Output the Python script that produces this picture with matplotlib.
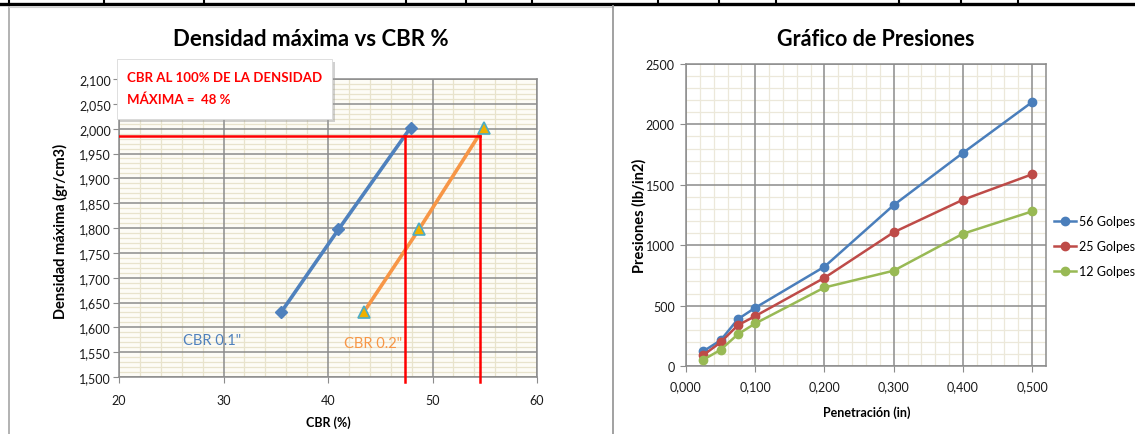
import matplotlib
matplotlib.use("Agg")
import matplotlib.pyplot as plt
from matplotlib.ticker import MultipleLocator, FuncFormatter
from matplotlib.patches import Rectangle
from matplotlib.lines import Line2D

plt.rcParams['font.family'] = ['Lato', 'DejaVu Sans']

# --- Densidad maxima vs CBR ---
cbr_01 = [35.5, 41.0, 47.9]          # CBR 0.1"
cbr_02 = [43.4, 48.7, 54.9]          # CBR 0.2"
densidad = [1.630, 1.797, 2.002]     # gr/cm3
dens_ref = 1.985                     # densidad de referencia (linea roja)
cbr_ref_01 = 47.4
cbr_ref_02 = 54.5
cbr_resultado = "48 %"

# --- Grafico de presiones ---
penetracion = [0.025, 0.050, 0.075, 0.100, 0.200, 0.300, 0.400, 0.500]
golpes_56 = [122, 213, 388, 482, 822, 1332, 1764, 2185]
golpes_25 = [90, 196, 338, 413, 730, 1107, 1376, 1587]
golpes_12 = [52, 134, 263, 352, 650, 789, 1095, 1280]
series_labels = ['56 Golpes', '25 Golpes', '12 Golpes']

W, H = 1135, 435
fig = plt.figure(figsize=(W / 100, H / 100), dpi=100)
fig.patch.set_facecolor('white')


def fx(px):
    return px / W


def fy(py):
    return 1 - py / H


def comma(dec):
    return FuncFormatter(lambda v, pos: f"{v:.{dec}f}".replace('.', ','))


def style_axes(ax, minor_color, face):
    ax.set_facecolor(face)
    ax.set_axisbelow(True)
    ax.grid(which='minor', color=minor_color, lw=0.9)
    # major grid drawn by hand so the minor lines don't cut through it
    x0, x1 = ax.get_xlim()
    y0, y1 = ax.get_ylim()
    for v in ax.get_xticks():
        if x0 <= v <= x1:
            ax.axvline(v, color='#8c8c8c', lw=1.1, zorder=1)
    for v in ax.get_yticks():
        if y0 <= v <= y1:
            ax.axhline(v, color='#8c8c8c', lw=1.1, zorder=1)
    for s in ax.spines.values():
        s.set_color('#8c8c8c')
        s.set_linewidth(1.1)
    ax.tick_params(which='major', direction='out', length=4, color='#8c8c8c',
                   labelsize=9, labelcolor='#1a1a1a')
    ax.tick_params(which='minor', length=0)


# ---------------- left chart ----------------
ax1 = fig.add_axes([fx(119), fy(378), (537 - 119) / W, (378 - 80) / H])
ax1.set_xlim(20, 60)
ax1.set_ylim(1.5, 2.1)
ax1.xaxis.set_major_locator(MultipleLocator(10))
ax1.xaxis.set_minor_locator(MultipleLocator(2))
ax1.yaxis.set_major_locator(MultipleLocator(0.05))
ax1.yaxis.set_minor_locator(MultipleLocator(0.01))
ax1.yaxis.set_major_formatter(comma(3))
style_axes(ax1, '#e8e3cc', '#fdfcf6')
ax1.tick_params(axis='y', pad=2)
ax1.tick_params(axis='x', pad=8)

ax1.plot(cbr_01, densidad, color='#4f81bd', lw=2.6, marker='D', ms=6,
         mfc='#4f81bd', mec='#4f81bd', zorder=3)
ax1.plot(cbr_02, densidad, color='#f79646', lw=2.6, marker='^', ms=8,
         mfc='#f0b000', mec='#4bacc6', mew=1.2, zorder=3)

y0, y1 = ax1.get_ylim()
top_frac = (dens_ref - y0) / (y1 - y0)
ax1.plot([ax1.get_xlim()[0], cbr_ref_02], [dens_ref, dens_ref], color='red', lw=1.8, zorder=4)
for c in (cbr_ref_01, cbr_ref_02):
    ax1.axvline(c, ymin=-0.018, ymax=top_frac, color='red', lw=1.8, clip_on=False, zorder=4)

ax1.text(28.9, 1.574, 'CBR 0.1"', color='#4f81bd', fontsize=10.5, ha='center', va='center', zorder=5)
ax1.text(44.3, 1.568, 'CBR 0.2"', color='#f79646', fontsize=10.5, ha='center', va='center', zorder=5)

fig.text(fx(311), fy(40), 'Densidad máxima vs CBR %', ha='center', va='center',
         fontsize=16, fontweight='bold')
fig.text(fx(60), fy(231), 'Densidad máxima (gr/cm3)', rotation=90, ha='center', va='center',
         fontsize=10.5, fontweight='bold')
fig.text(fx(328), fy(423), 'CBR (%)', ha='center', va='center', fontsize=9, fontweight='bold')

# caja con el resultado
bx0, by0, bx1, by1 = 117, 60, 332, 120
fig.patches.append(Rectangle((fx(bx0 + 3), fy(by1 + 3)), (bx1 - bx0) / W, (by1 - by0) / H,
                             transform=fig.transFigure, fc='#9a9a9a', ec='none', alpha=0.45, zorder=5))
fig.patches.append(Rectangle((fx(bx0), fy(by1)), (bx1 - bx0) / W, (by1 - by0) / H,
                             transform=fig.transFigure, fc='white', ec='#d9d9d9', lw=0.6, zorder=6))
fig.text(fx(127), fy(78), 'CBR AL 100% DE LA DENSIDAD', color='#ff0000', fontsize=9.5,
         fontweight='bold', ha='left', va='center', zorder=7)
fig.text(fx(127), fy(100), 'MÁXIMA =  ' + cbr_resultado, color='#ff0000', fontsize=9.5,
         fontweight='bold', ha='left', va='center', zorder=7)

# ---------------- right chart ----------------
ax2 = fig.add_axes([fx(686), fy(367), (1046 - 686) / W, (367 - 65) / H])
ax2.set_xlim(0, 0.52)
ax2.set_ylim(0, 2500)
ax2.xaxis.set_major_locator(MultipleLocator(0.1))
ax2.xaxis.set_minor_locator(MultipleLocator(0.02))
ax2.yaxis.set_major_locator(MultipleLocator(500))
ax2.yaxis.set_minor_locator(MultipleLocator(100))
ax2.xaxis.set_major_formatter(comma(3))
style_axes(ax2, '#ece8da', 'white')
ax2.tick_params(axis='y', pad=4)
ax2.tick_params(axis='x', pad=6)

colors = ['#4a7ebb', '#be4b48', '#98b954']
for vals, col, lab in zip([golpes_56, golpes_25, golpes_12], colors, series_labels):
    ax2.plot(penetracion, vals, color=col, lw=1.8, marker='o', ms=6, mfc=col, mec=col,
             label=lab, zorder=3)

fig.legend(*ax2.get_legend_handles_labels(), loc='center left',
           bbox_to_anchor=(fx(1048), fy(247)), frameon=False, fontsize=9,
           handlelength=1.7, handletextpad=0.3, labelspacing=1.05, borderpad=0)

fig.text(fx(876), fy(40), 'Gráfico de Presiones', ha='center', va='center',
         fontsize=15.5, fontweight='bold')
fig.text(fx(639), fy(216), 'Presiones (lb/in2)', rotation=90, ha='center', va='center',
         fontsize=10.5, fontweight='bold')
fig.text(fx(867), fy(413), 'Penetración (in)', ha='center', va='center',
         fontsize=9, fontweight='bold')

# ---------------- hoja de calculo: bordes ----------------
fig.add_artist(Line2D([0, 1], [fy(5), fy(5)], color='black', lw=2.4))
for c in [9, 104, 204, 406, 466, 532, 658, 719, 776, 899, 961, 1018]:
    fig.add_artist(Line2D([fx(c), fx(c)], [fy(0), fy(5)], color='black', lw=1.5))
fig.add_artist(Line2D([fx(9), fx(9)], [fy(8), fy(435)], color='#a6a6a6', lw=1.2))
fig.add_artist(Line2D([fx(9), fx(613)], [fy(8), fy(8)], color='#d0d0d0', lw=0.8))
fig.add_artist(Line2D([fx(613), fx(613)], [fy(7), fy(435)], color='#9a9a9a', lw=1.3))

fig.savefig('out.png', dpi=100)
